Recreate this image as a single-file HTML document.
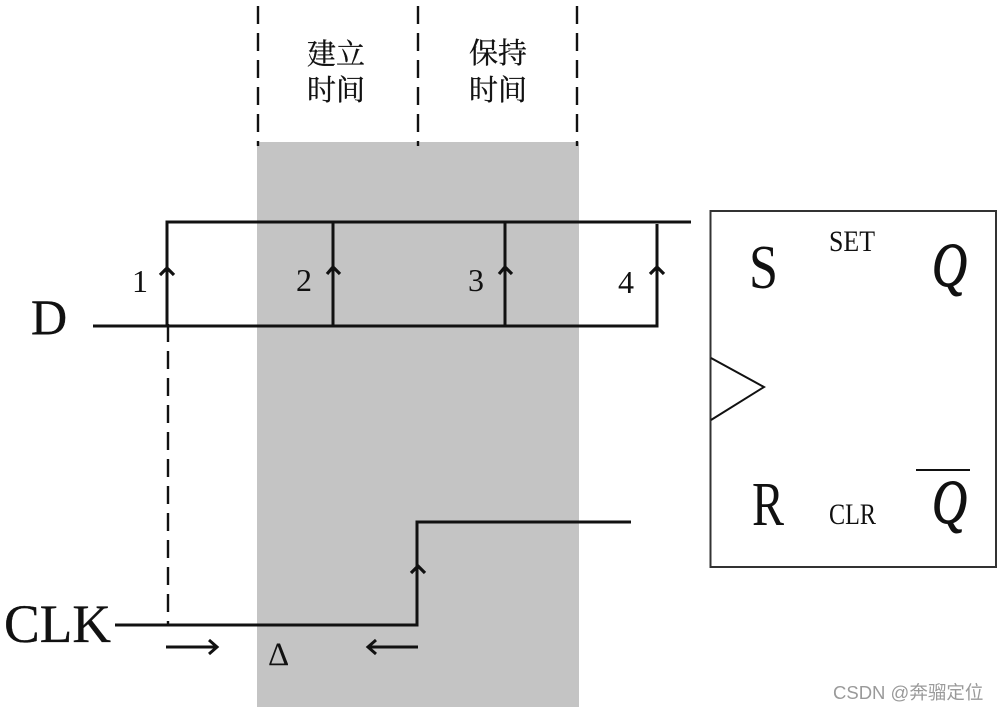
<!DOCTYPE html>
<html><head><meta charset="utf-8"><style>html,body{margin:0;padding:0;background:#fff}svg{display:block}</style></head>
<body>
<svg width="1000" height="711" viewBox="0 0 1000 711" xmlns="http://www.w3.org/2000/svg" font-family="'Liberation Serif','Noto Serif CJK SC',serif" fill="#111">
<rect x="257" y="142" width="322" height="565" fill="#c4c4c4"/>
<g stroke="#111" stroke-width="2.4" stroke-dasharray="18 9" fill="none">
<path d="M258 6V146M418 6V146M577 6V146"/>
<path d="M168 324V625"/>
</g>
<g stroke="#111" stroke-width="3" fill="none">
<path d="M167 326V222H691"/>
<path d="M93 326H657V224"/>
<path d="M333 222V326M505 222V326"/>
<path d="M115 625H417V522H631"/>
<path d="M160 275L167 268L174 275M327 274L333 267L340 274M499 274L505 267L512 274M650 274L657 267L664 274M411 573L418 566L425 573" stroke-width="3.2"/>
<path d="M166 647H216M209 640L217 647L209 654M418 647H369M376 640L368 647L376 654"/>
</g>
<rect x="710.5" y="211" width="285.5" height="356" fill="none" stroke="#333" stroke-width="2"/>
<path d="M711 358L764 387L711 420" fill="none" stroke="#111" stroke-width="2"/>
<path d="M916 470H970" stroke="#111" stroke-width="2"/>
<text x="31" y="334" font-size="50" stroke="#111" stroke-width=".4">D</text>
<text x="4" y="642" font-size="54" textLength="107" lengthAdjust="spacingAndGlyphs" stroke="#111" stroke-width=".3">CLK</text>
<text x="132" y="292" font-size="32">1</text>
<text x="296" y="291" font-size="32">2</text>
<text x="468" y="291" font-size="32">3</text>
<text x="618" y="293" font-size="32">4</text>
<text x="268" y="665" font-size="33" font-family="'Liberation Serif',serif">Δ</text>
<text x="749" y="288" font-size="62" font-weight="normal" textLength="29" lengthAdjust="spacingAndGlyphs">S</text>
<text x="752" y="525" font-size="62" textLength="32" lengthAdjust="spacingAndGlyphs">R</text>
<text x="829" y="251" font-size="30" textLength="46" lengthAdjust="spacingAndGlyphs">SET</text>
<text x="829" y="524" font-size="30" textLength="47" lengthAdjust="spacingAndGlyphs">CLR</text>
<text x="932" y="286" font-size="62" font-style="italic" textLength="35" lengthAdjust="spacingAndGlyphs" stroke="#111" stroke-width="1">Q</text>
<text x="932" y="523" font-size="62" font-style="italic" textLength="35" lengthAdjust="spacingAndGlyphs" stroke="#111" stroke-width="1">Q</text>
<g font-size="29" stroke="#111" stroke-width=".3">
<text x="307" y="64">建立</text>
<text x="307" y="100">时间</text>
<text x="469" y="63">保持</text>
<text x="469" y="100">时间</text>
</g>
<text x="833" y="699" font-size="18.5" fill="#9a9a9a" font-family="'Liberation Sans','Noto Sans CJK SC',sans-serif">CSDN @奔骝定位</text>
</svg>
</body></html>
